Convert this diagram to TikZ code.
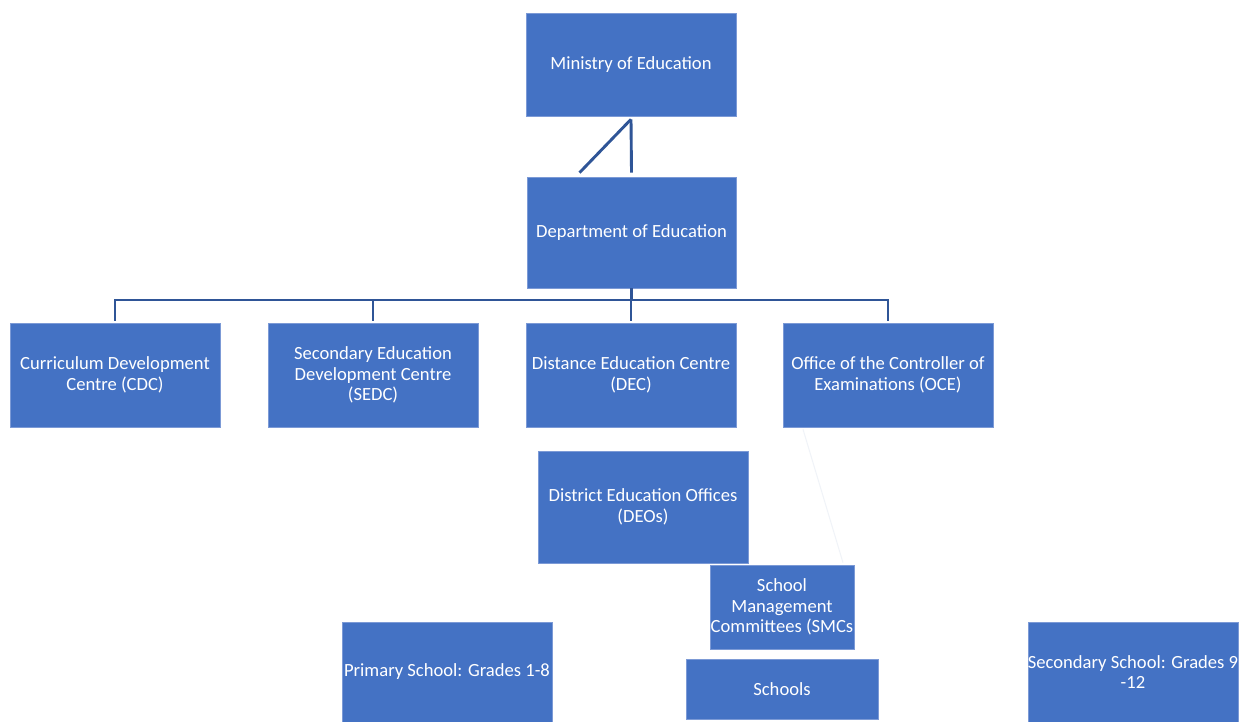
\documentclass[tikz,border=0pt]{standalone}
\usepackage{fontspec}
\setmainfont{Carlito}
\definecolor{boxblue}{HTML}{4472C4}
\definecolor{boxedge}{HTML}{7C9AD6}
\definecolor{connblue}{HTML}{2F5597}
\definecolor{faintline}{HTML}{F0F3F8}
\tikzset{
  box/.style={rectangle, fill=boxblue, draw=boxedge, line width=0.6pt, text=white,
    align=center, inner sep=0pt, font=\fontsize{18.6}{20.8}\selectfont},
  conn/.style={draw=connblue, line width=2.9pt},
  faint/.style={draw=faintline, line width=1pt}
}
\begin{document}
\begin{tikzpicture}[x=1pt,y=-1pt]
\useasboundingbox[fill=white] (0,0) rectangle (1247,722);
\node[box, minimum width=210pt, minimum height=103pt] (min) at (631,64.5) {Ministry of Education};
\node[box, minimum width=209pt, minimum height=111pt] (dept) at (631.5,232.5) {Department of Education};
\node[box, minimum width=210pt, minimum height=104pt] (cdc) at (115,375) {Curriculum Development\\Centre (CDC)};
\node[box, minimum width=210pt, minimum height=104pt] (sedc) at (373,375) {Secondary Education\\Development Centre\\(SEDC)};
\node[box, minimum width=210pt, minimum height=104pt] (dec) at (631,375) {Distance Education Centre\\(DEC)};
\node[box, minimum width=210pt, minimum height=104pt] (oce) at (888,375) {Office of the Controller of\\Examinations (OCE)};
\node[box, minimum width=210pt, minimum height=112pt] (deo) at (643,507) {District Education Offices\\(DEOs)};
\node[box, minimum width=144pt, minimum height=84pt] (smc) at (782,607) {School\\Management\\Committees (SMCs};
\node[box, minimum width=192pt, minimum height=60pt] (sch) at (782,689) {Schools};
\node[box, minimum width=210pt, minimum height=100pt] (pri) at (447,672) {Primary School: Grades 1-8};
\node[box, minimum width=210pt, minimum height=100pt] (sec) at (1133,672) {Secondary School: Grades 9\\-12};
% ministry to department
\draw[conn] ([yshift=-3pt]min.south) -- ([yshift=4pt]dept.north);
\draw[conn] ([yshift=-3pt]min.south) -- ([xshift=-52pt,yshift=4pt]dept.north);
% bus
\coordinate (bus) at (0,300);
\draw[conn] (dept.south) -- (dept.south |- bus);
\draw[conn] ([yshift=2pt]cdc.north) -- (cdc.north |- bus) -- (oce.north |- bus) -- ([yshift=2pt]oce.north);
\draw[conn] ([yshift=2pt]sedc.north) -- (sedc.north |- bus);
\draw[conn] ([yshift=2pt]dec.north) -- (dec.north |- bus);
% faint line
\draw[faint] ([xshift=-85pt,yshift=-2pt]oce.south) -- ([xshift=61pt,yshift=2pt]smc.north);
\end{tikzpicture}
\end{document}
